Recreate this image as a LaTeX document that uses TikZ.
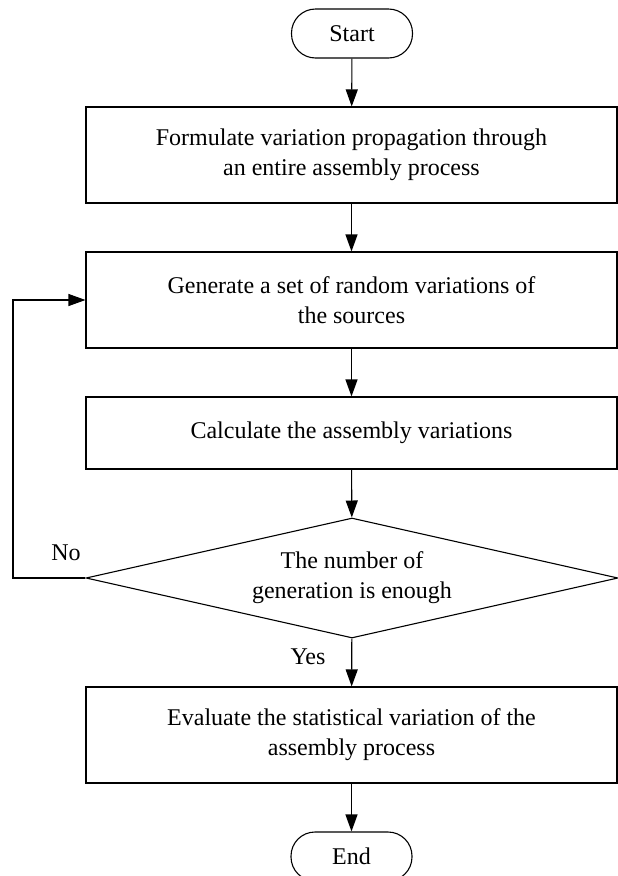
\documentclass[tikz,border=0pt]{standalone}
\usepackage{fontspec}
\setmainfont{Liberation Serif}
\usetikzlibrary{shapes.geometric,arrows.meta}

\begin{document}
\begin{tikzpicture}[x=1pt,y=-1pt,line width=1.1pt,
  font=\fontsize{24}{30}\selectfont,
  box/.style={draw,minimum width=531pt,minimum height=96pt,align=center,inner sep=0pt},
  term/.style={draw,rounded corners=24pt,minimum width=121pt,minimum height=49pt,inner sep=0pt},
  decide/.style={draw,diamond,aspect=4.43,minimum width=532pt,minimum height=120pt,align=center,inner sep=0pt},
  flow/.style={-{Triangle[length=17pt,width=12pt]}}]
\useasboundingbox (0,0) rectangle (618,876);
\node[term] (start) at (352,33.5) {Start};
\node[box] (form) at (351.5,155) {Formulate variation propagation through\\an entire assembly process};
\node[box] (gen) at (351.5,300) {Generate a set of random variations of\\the sources};
\node[box,minimum height=72pt] (calc) at (351.5,433) {Calculate the assembly variations};
\node[decide] (dec) at (352,578) {The number of\\generation is enough};
\node[box] (eval) at (351.5,735) {Evaluate the statistical variation of the\\assembly process};
\node[term] (end) at (351.5,856.5) {End};
\node (no) at (66,553) {No};
\node (yes) at (308,657) {Yes};
\coordinate (loop) at (13,578);
\draw[flow] (start) -- (form);
\draw[flow] (form) -- (gen);
\draw[flow] (gen) -- (calc);
\draw[flow] (calc) -- (dec);
\draw[flow] (dec) -- (eval);
\draw[flow] (eval) -- (end);
\draw[flow] (dec.west) -- (loop) |- (gen.west);
\end{tikzpicture}
\end{document}
